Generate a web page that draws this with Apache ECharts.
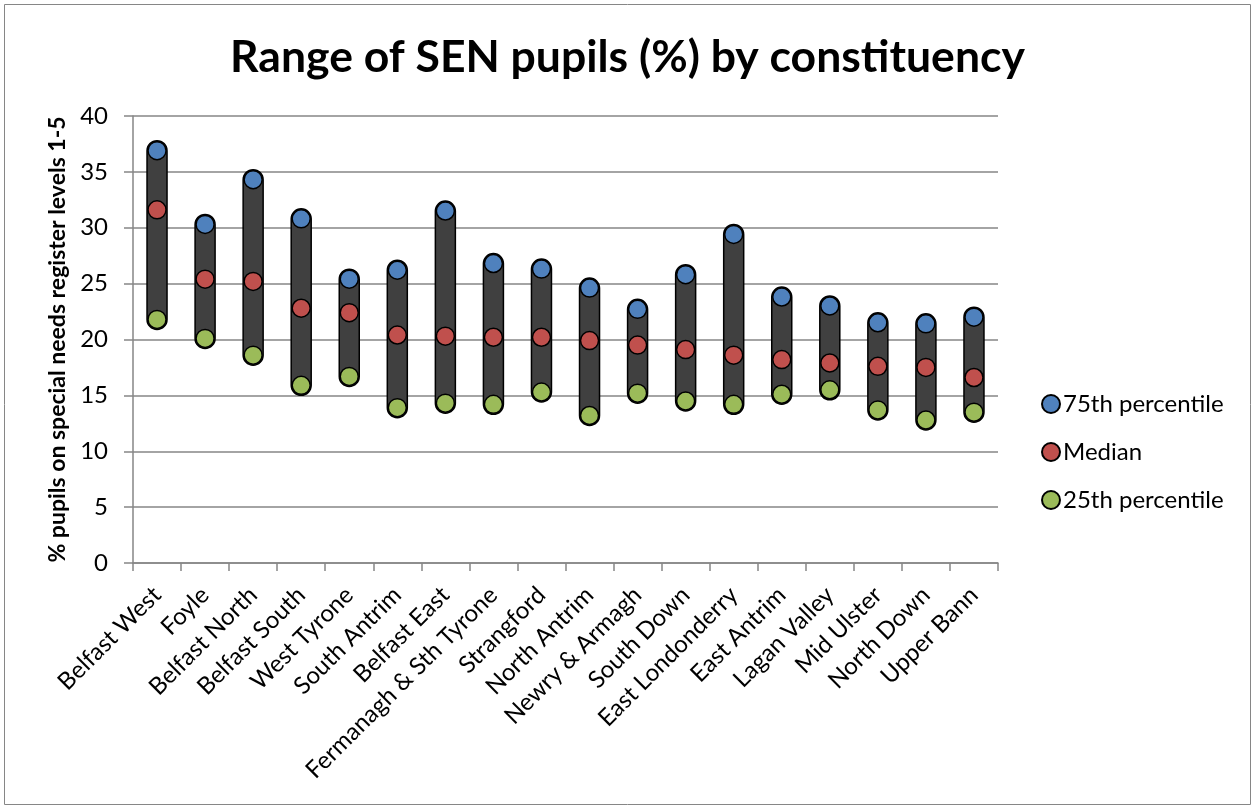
<!DOCTYPE html>
<html>
<head>
<meta charset="utf-8">
<script src="https://cdn.jsdelivr.net/npm/echarts@6/dist/echarts.min.js"></script>
<style>
  html, body { margin: 0; padding: 0; background: #fff; }
  #chart { width: 1255px; height: 810px; }
</style>
</head>
<body>
<div id="chart"></div>
<script>
  // constituencies, in the order shown
  var constituencies = ['Belfast West', 'Foyle', 'Belfast North', 'Belfast South', 'West Tyrone',
    'South Antrim', 'Belfast East', 'Fermanagh & Sth Tyrone', 'Strangford', 'North Antrim',
    'Newry & Armagh', 'South Down', 'East Londonderry', 'East Antrim', 'Lagan Valley',
    'Mid Ulster', 'North Down', 'Upper Bann'];
  var p75 = [36.9, 30.3, 34.3, 30.8, 25.4, 26.2, 31.5, 26.8, 26.3, 24.6, 22.7, 25.8, 29.4, 23.8, 23.0, 21.5, 21.4, 22.0];
  var median = [31.6, 25.4, 25.2, 22.8, 22.4, 20.4, 20.3, 20.2, 20.2, 19.9, 19.5, 19.1, 18.6, 18.2, 17.9, 17.6, 17.5, 16.6];
  var p25 = [21.8, 20.1, 18.6, 15.9, 16.7, 13.9, 14.3, 14.2, 15.3, 13.2, 15.2, 14.5, 14.2, 15.1, 15.5, 13.7, 12.8, 13.5];
  var yTicks = [0, 5, 10, 15, 20, 25, 30, 35, 40];

  var font = 'Lato, "Open Sans", sans-serif';
  var gray = '#868686';

  var rangeData = constituencies.map(function (c, i) { return [i, p25[i], p75[i]]; });

  var chart = echarts.init(document.getElementById('chart'));

  function dots(name, values, color) {
    return {
      name: name,
      type: 'scatter',
      data: values,
      symbol: 'circle',
      symbolSize: 18,
      z: 5,
      itemStyle: { color: color, borderColor: '#000', borderWidth: 1.5, opacity: 1 },
      emphasis: { disabled: true }
    };
  }

  chart.setOption({
    animation: false,
    title: {
      text: 'Range of SEN pupils (%) by constituency',
      left: 'center',
      top: 30,
      textStyle: { fontFamily: font, fontSize: 44.5, fontWeight: 'bold', color: '#000' }
    },
    graphic: [{
      type: 'rect',
      shape: { x: 4.5, y: 4.5, width: 1246, height: 800 },
      style: { fill: 'none', stroke: gray, lineWidth: 1 },
      silent: true
    }],
    legend: {
      data: ['75th percentile', 'Median', '25th percentile'],
      orient: 'vertical',
      left: 1036,
      top: 387,
      itemGap: 24,
      itemWidth: 18,
      itemHeight: 18,
      icon: 'circle',
      textStyle: { fontFamily: font, fontSize: 24, color: '#000', padding: [0, 0, 0, -2] }
    },
    grid: { left: 133, right: 257, top: 116, bottom: 247 },
    xAxis: {
      type: 'category',
      data: constituencies,
      boundaryGap: true,
      axisLine: { lineStyle: { color: gray, width: 1.5 } },
      axisTick: { show: true, alignWithLabel: false, length: 8, lineStyle: { color: gray, width: 1.5 } },
      axisLabel: { rotate: 45, interval: 0, fontFamily: font, fontSize: 24, color: '#000', margin: 28 }
    },
    yAxis: {
      type: 'value',
      min: yTicks[0],
      max: yTicks[yTicks.length - 1],
      interval: 5,
      name: '% pupils on special needs register levels 1-5',
      nameLocation: 'middle',
      nameGap: 64,
      nameTextStyle: { fontFamily: font, fontSize: 23, fontWeight: 'bold', color: '#000' },
      axisLine: { show: true, lineStyle: { color: gray, width: 1.5 } },
      axisTick: { show: true, length: 9, lineStyle: { color: gray, width: 1.5 } },
      splitLine: { lineStyle: { color: gray, width: 1.5 } },
      axisLabel: { fontFamily: font, fontSize: 24, color: '#000', margin: 25 }
    },
    series: [
      {
        name: 'range',
        type: 'custom',
        data: rangeData,
        z: 2,
        encode: { x: 0, y: [1, 2] },
        renderItem: function (params, api) {
          var lo = api.coord([api.value(0), api.value(1)]);
          var hi = api.coord([api.value(0), api.value(2)]);
          var w = 20;
          return {
            type: 'rect',
            shape: { x: lo[0] - w / 2, y: hi[1] - w / 2, width: w, height: lo[1] - hi[1] + w, r: w / 2 },
            style: { fill: '#404040', stroke: '#000', lineWidth: 1.5 }
          };
        }
      },
      dots('75th percentile', p75, '#4F81BD'),
      dots('Median', median, '#C0504D'),
      dots('25th percentile', p25, '#9BBB59')
    ]
  });
</script>
</body>
</html>
